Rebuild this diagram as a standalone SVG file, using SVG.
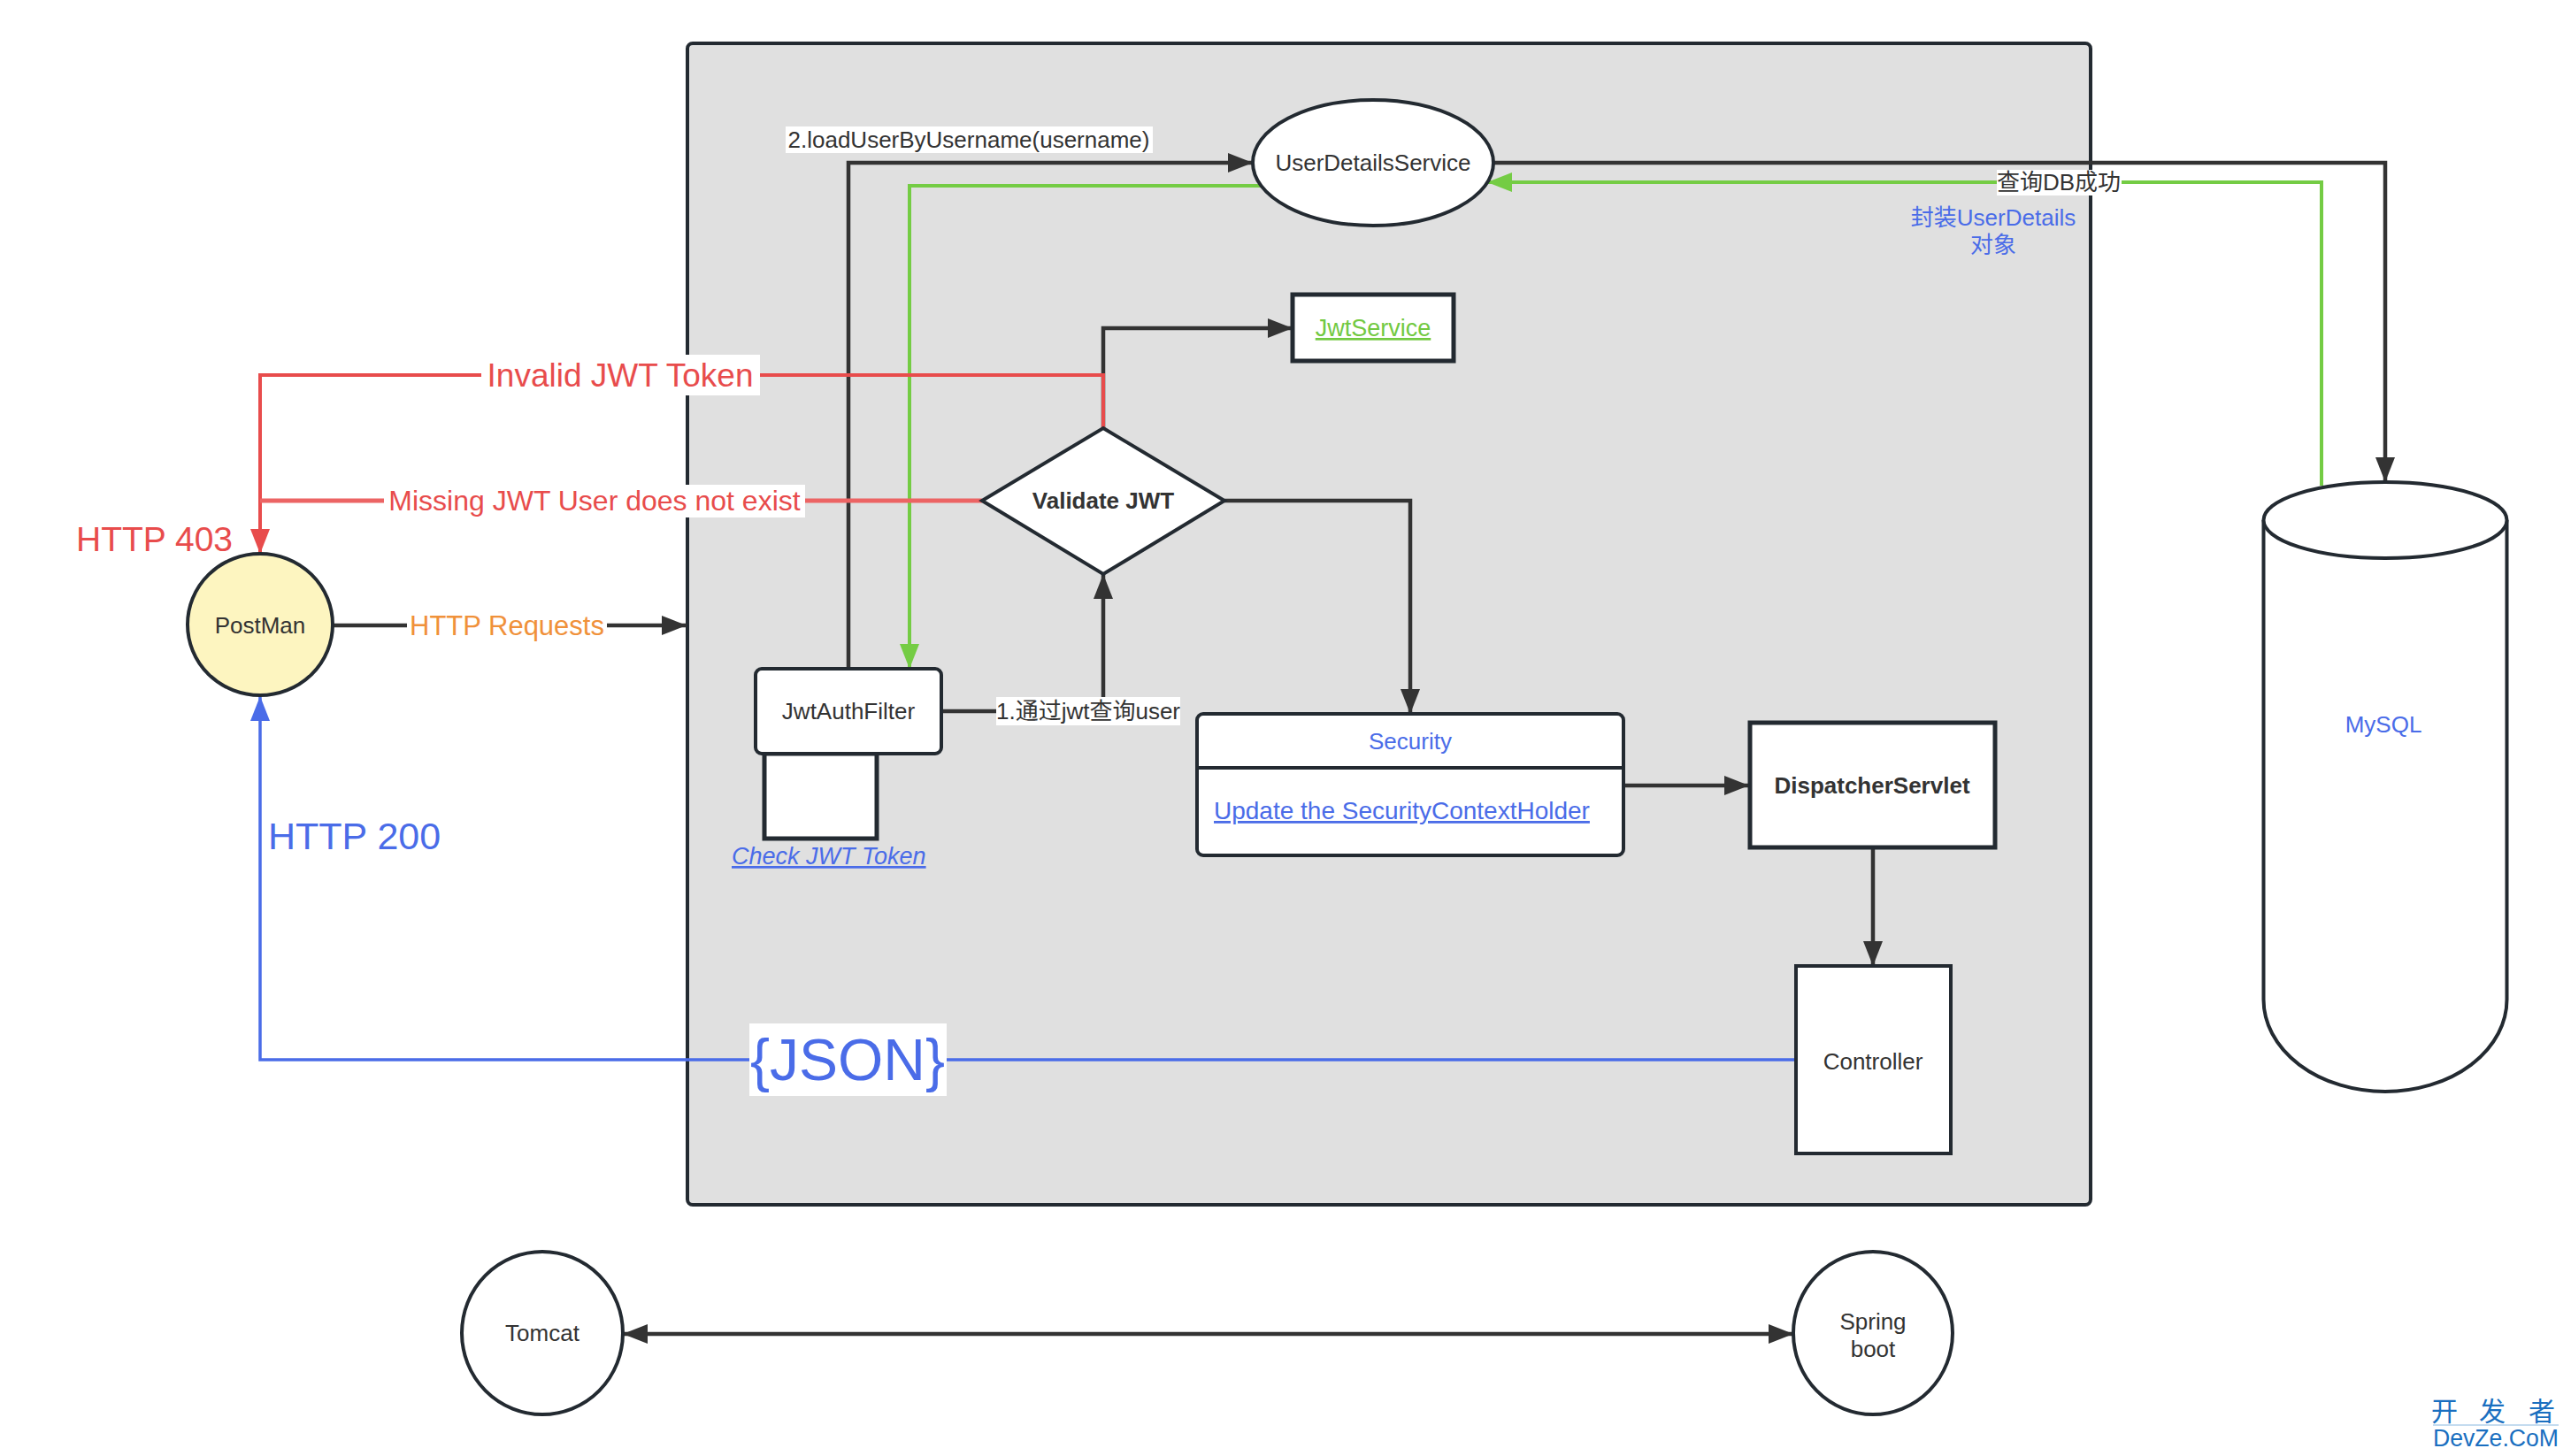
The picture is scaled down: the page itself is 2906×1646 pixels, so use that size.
<svg xmlns="http://www.w3.org/2000/svg" width="2906" height="1646" viewBox="0 0 2906 1646">
<defs>
<style>
text{font-family:"Liberation Sans",Arial,"Noto Sans CJK SC",sans-serif;}
.node{fill:#ffffff;stroke:#232a31;stroke-width:4;}
.lbl{font-size:26px;fill:#333333;text-anchor:middle;}
.bold{font-weight:bold;}
.blue{fill:#4a6ce8;}
.green{fill:#72c941;}
.cd{fill:none;stroke:#333333;stroke-width:4.5;}
.cr{fill:none;stroke:#e84c4c;stroke-width:4;}
.cr2{fill:none;stroke:#ec6464;stroke-width:5;}
.cg{fill:none;stroke:#74cc44;stroke-width:4;}
.cb{fill:none;stroke:#4a6ce8;stroke-width:3.5;}
.bg{fill:#ffffff;}
</style>
<marker id="ad" viewBox="0 0 28 22" refX="28" refY="11" markerWidth="28" markerHeight="22" markerUnits="userSpaceOnUse" orient="auto-start-reverse"><path d="M0 0 L28 11 L0 22 z" fill="#333333"/></marker>
<marker id="ar" viewBox="0 0 28 22" refX="28" refY="11" markerWidth="28" markerHeight="22" markerUnits="userSpaceOnUse" orient="auto"><path d="M0 0 L28 11 L0 22 z" fill="#e84c4c"/></marker>
<marker id="ag" viewBox="0 0 28 22" refX="28" refY="11" markerWidth="28" markerHeight="22" markerUnits="userSpaceOnUse" orient="auto"><path d="M0 0 L28 11 L0 22 z" fill="#74cc44"/></marker>
<marker id="ab" viewBox="0 0 28 22" refX="28" refY="11" markerWidth="28" markerHeight="22" markerUnits="userSpaceOnUse" orient="auto"><path d="M0 0 L28 11 L0 22 z" fill="#4a6ce8"/></marker>
</defs>
<rect width="2906" height="1646" fill="#ffffff"/>

<g id="container">
<rect x="777" y="49" width="1586" height="1313" rx="6" fill="#e0e0e0" stroke="#232a31" stroke-width="4"/>
</g>

<g id="connectors">
<!-- PostMan -> container -->
<path class="cd" d="M376 707 H776" marker-end="url(#ad)"/>
<rect class="bg" x="460" y="690" width="226" height="36"/>
<text x="573" y="718" style="font-size:31px;fill:#f0913a;text-anchor:middle">HTTP Requests</text>

<!-- JwtAuthFilter -> UserDetailsService -->
<path class="cd" d="M959 756 V184 H1416" marker-end="url(#ad)"/>
<rect class="bg" x="888" y="143" width="415" height="30"/>
<text class="lbl" x="1095" y="167">2.loadUserByUsername(username)</text>

<!-- UserDetailsService -> JwtAuthFilter (green) -->
<path class="cg" d="M1425 210 H1028 V756" marker-end="url(#ag)"/>

<!-- Validate JWT -> JwtService -->
<path class="cd" d="M1247 484 V371 H1461" marker-end="url(#ad)"/>

<!-- JwtAuthFilter -> Validate JWT -->
<path class="cd" d="M1064 804 H1247 V649" marker-end="url(#ad)"/>
<rect class="bg" x="1126" y="788" width="208" height="32"/>
<text class="lbl" x="1230" y="813">1.通过jwt查询user</text>

<!-- Validate JWT -> Security -->
<path class="cd" d="M1384 566 H1594 V807" marker-end="url(#ad)"/>

<!-- Security -> DispatcherServlet -->
<path class="cd" d="M1835 888 H1977" marker-end="url(#ad)"/>

<!-- DispatcherServlet -> Controller -->
<path class="cd" d="M2117 958 V1092" marker-end="url(#ad)"/>

<!-- UserDetailsService -> MySQL -->
<path class="cd" d="M1688 184 H2696 V545" marker-end="url(#ad)"/>

<!-- MySQL -> UserDetailsService (green) -->
<path class="cg" d="M2624 549 V206 H1681" marker-end="url(#ag)"/>
<rect class="bg" x="2257" y="192" width="141" height="29"/>
<text class="lbl" x="2327" y="215">查询DB成功</text>

<!-- Controller -> PostMan (blue) -->
<path class="cb" d="M2030 1198 H294 V787" marker-end="url(#ab)"/>
<rect class="bg" x="847" y="1157" width="223" height="82"/>
<text x="958" y="1221" style="font-size:66px;fill:#4a6ce8;text-anchor:middle">{JSON}</text>

<!-- Invalid JWT Token (red) -->
<path class="cr" d="M1247 484 V424 H294 V626" marker-end="url(#ar)"/>
<rect class="bg" x="544" y="401" width="315" height="46"/>
<text x="701" y="437" style="font-size:37px;fill:#e84c4c;text-anchor:middle">Invalid JWT Token</text>

<!-- Missing JWT (red) -->
<path class="cr2" d="M1110 566 H294"/>
<rect class="bg" x="434" y="548" width="476" height="37"/>
<text x="672" y="577" style="font-size:32px;fill:#e84c4c;text-anchor:middle">Missing JWT User does not exist</text>

<!-- Tomcat <-> Spring boot -->
<path class="cd" d="M704 1508 H2027" marker-start="url(#ad)" marker-end="url(#ad)"/>
</g>

<g id="postman">
<ellipse cx="294" cy="706" rx="82" ry="80" fill="#fdf5c0" stroke="#232a31" stroke-width="4"/>
<text class="lbl" x="294" y="716">PostMan</text>
</g>

<g id="http403">
<text x="86" y="623" style="font-size:39px;fill:#e84c4c">HTTP 403</text>
</g>
<g id="http200">
<text x="303" y="960" style="font-size:43px;fill:#4a6ce8">HTTP 200</text>
</g>

<g id="userDetailsService">
<ellipse class="node" cx="1552" cy="184" rx="136" ry="71"/>
<text class="lbl" x="1552" y="193">UserDetailsService</text>
</g>

<g id="jwtService">
<rect class="node" x="1461" y="333" width="182" height="75" style="stroke-width:5"/>
<text class="lbl green" x="1552" y="380" style="font-size:27px;text-decoration:underline">JwtService</text>
</g>

<g id="validateJwt">
<polygon class="node" points="1247,484 1384,566 1247,649 1110,566"/>
<text class="lbl bold" x="1247" y="575">Validate JWT</text>
</g>

<g id="jwtAuthFilter">
<rect class="node" x="864" y="852" width="127" height="96" style="stroke-width:5"/>
<rect class="node" x="854" y="756" width="210" height="96" rx="7"/>
<text class="lbl" x="959" y="813">JwtAuthFilter</text>
<text x="827" y="977" style="font-size:27px;font-style:italic;fill:#4a6ce8;text-decoration:underline">Check JWT Token</text>
</g>

<g id="security">
<rect class="node" x="1353" y="807" width="482" height="160" rx="7"/>
<line x1="1353" y1="868" x2="1835" y2="868" stroke="#232a31" stroke-width="4"/>
<text class="lbl blue" x="1594" y="847">Security</text>
<text x="1372" y="926" style="font-size:28px;fill:#4a6ce8;text-decoration:underline">Update the SecurityContextHolder</text>
</g>

<g id="dispatcherServlet">
<rect class="node" x="1978" y="817" width="277" height="141" style="stroke-width:5"/>
<text class="lbl bold" x="2116" y="897">DispatcherServlet</text>
</g>

<g id="controller">
<rect class="node" x="2030" y="1092" width="175" height="212"/>
<text class="lbl" x="2117" y="1209">Controller</text>
</g>

<g id="mysql">
<path class="node" d="M2558.5 588 V1130 A137.5 104 0 0 0 2833.5 1130 V588"/>
<ellipse class="node" cx="2696" cy="588" rx="137.5" ry="43"/>
<text class="lbl blue" x="2694" y="828">MySQL</text>
</g>

<g id="userDetailsNote">
<text class="lbl blue" x="2253" y="255">封装UserDetails</text>
<text class="lbl blue" x="2253" y="286">对象</text>
</g>

<g id="tomcat">
<ellipse class="node" cx="613" cy="1507" rx="91" ry="92"/>
<text class="lbl" x="613" y="1516">Tomcat</text>
</g>

<g id="springBoot">
<ellipse class="node" cx="2117" cy="1507" rx="90" ry="92"/>
<text class="lbl" x="2117" y="1503">Spring</text>
<text class="lbl" x="2117" y="1534">boot</text>
</g>

<g id="watermark">
<text x="2748 2802 2858" y="1606" style="font-size:30px;fill:#1a6fc0">开发者</text>
<line x1="2750" y1="1611" x2="2892" y2="1611" stroke="#8ab8e0" stroke-width="1"/>
<text x="2750" y="1635" textLength="142" lengthAdjust="spacingAndGlyphs" style="font-size:27px;fill:#1a6fc0">DevZe.CoM</text>
</g>
</svg>
